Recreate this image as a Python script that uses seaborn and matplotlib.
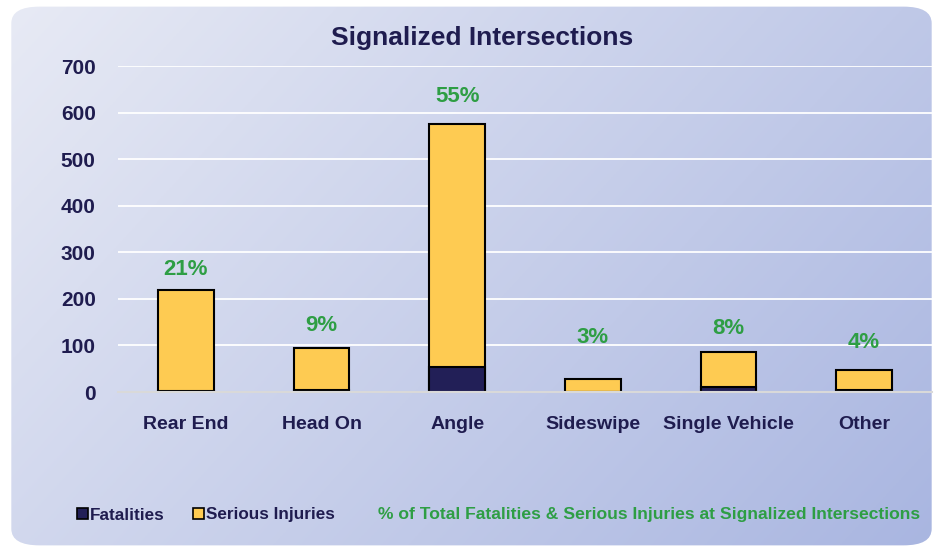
import numpy as np
import pandas as pd
import seaborn as sns
import matplotlib.pyplot as plt
from matplotlib.patches import FancyBboxPatch, Patch

categories = ['Rear End', 'Head On', 'Angle', 'Sideswipe', 'Single Vehicle', 'Other']
fatalities = [3, 5, 54, 1, 11, 4]
serious_injuries = [217, 89, 521, 27, 75, 43]
pct_labels = ['21%', '9%', '55%', '3%', '8%', '4%']
pct_label_y = [264, 142, 635, 116, 137, 107]

navy = '#221f57'
yellow = '#fecb52'
green = '#2e9e44'
text_col = '#1f1c4f'

sns.set_theme(style='white')
plt.rcParams['font.family'] = ['Liberation Sans', 'DejaVu Sans']

df = pd.DataFrame({'category': categories,
                   'fatal': fatalities,
                   'total': np.array(fatalities) + np.array(serious_injuries)})

fig = plt.figure(figsize=(9.43, 5.52), dpi=100)
fig.patch.set_facecolor('white')

# gradient background with rounded corners
bg = fig.add_axes([0, 0, 1, 1], zorder=0)
bg.set_axis_off()
xx, yy = np.meshgrid(np.linspace(0, 1, 300), np.linspace(0, 1, 200))
t = (xx * 0.65 + yy * 0.35)
c0 = np.array([0.91, 0.92, 0.96])
c1 = np.array([0.66, 0.71, 0.88])
img = c0[None, None, :] * (1 - t[..., None]) + c1[None, None, :] * t[..., None]
im = bg.imshow(img, extent=[0, 1, 0, 1], origin='upper', aspect='auto')
box = FancyBboxPatch((0.012, 0.012), 0.976, 0.976,
                     boxstyle='round,pad=0,rounding_size=0.03',
                     transform=bg.transAxes, facecolor='none', edgecolor='none')
bg.add_patch(box)
im.set_clip_path(box)
bg.set_xlim(0, 1)
bg.set_ylim(0, 1)

ax = fig.add_axes([118 / 943, 1 - 392 / 552, (932 - 118) / 943, (392 - 66) / 552], zorder=1)
ax.patch.set_alpha(0)

sns.barplot(data=df, x='category', y='total', color=yellow, width=0.41,
            edgecolor='black', linewidth=1.5, saturation=1, ax=ax)
sns.barplot(data=df, x='category', y='fatal', color=navy, width=0.41,
            edgecolor='black', linewidth=1.5, saturation=1, ax=ax)

for i, (lab, yv) in enumerate(zip(pct_labels, pct_label_y)):
    ax.text(i, yv, lab, ha='center', va='center', color=green,
            fontsize=16, fontweight='bold')

ax.set_ylim(0, 700)
ax.set_xlim(-0.5, 5.5)
ax.set_yticks(range(0, 701, 100))
ax.yaxis.grid(True, color='white', linewidth=1.3)
ax.set_axisbelow(True)
for s in ['top', 'right', 'left']:
    ax.spines[s].set_visible(False)
ax.spines['bottom'].set_color('#d9d9d9')
ax.spines['bottom'].set_linewidth(1.5)
ax.tick_params(axis='both', length=0, labelsize=14, labelcolor=text_col)
ax.tick_params(axis='y', pad=16, labelsize=15)
ax.tick_params(axis='x', pad=17)
for lbl in ax.get_xticklabels() + ax.get_yticklabels():
    lbl.set_fontweight('bold')
ax.set_xlabel('')
ax.set_ylabel('')

fig.text(482 / 943, 1 - 38 / 552, 'Signalized Intersections', ha='center', va='center',
         fontsize=19, fontweight='bold', color=text_col)

handles = [Patch(facecolor=navy, edgecolor='black', linewidth=1.2, label='Fatalities'),
           Patch(facecolor=yellow, edgecolor='black', linewidth=1.2, label='Serious Injuries')]
fig.legend(handles=handles, loc='center left', bbox_to_anchor=(62 / 943, 1 - 515 / 552),
           ncol=2, frameon=False, handlelength=0.6, handleheight=0.6, handletextpad=0.12,
           columnspacing=1.7, prop={'size': 12.3, 'weight': 'bold'}, labelcolor=text_col)
fig.text(378 / 943, 1 - 515 / 552,
         '% of Total Fatalities & Serious Injuries at Signalized Intersections',
         ha='left', va='center', fontsize=12.6, fontweight='bold', color=green)

fig.savefig('out.png', dpi=100)
